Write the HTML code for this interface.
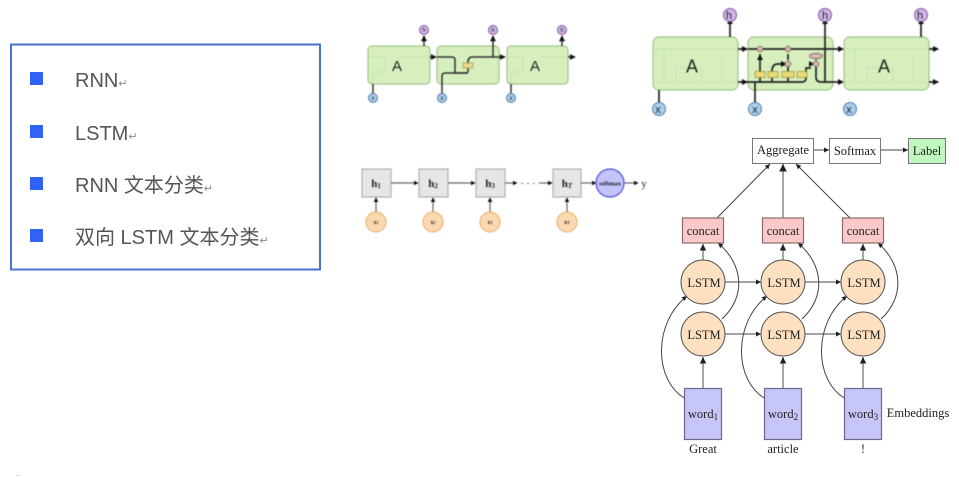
<!DOCTYPE html>
<html><head><meta charset="utf-8"><style>
html,body{margin:0;padding:0;background:#fff}
body{width:959px;height:477px;overflow:hidden;position:relative}
svg{position:absolute;left:0;top:0}
.t{font-family:"Liberation Serif",serif;fill:#222;text-anchor:middle}
.s{font-family:"Liberation Sans",sans-serif;fill:#222;text-anchor:middle}
.L{font-family:"Liberation Sans","Noto Sans CJK SC",sans-serif;font-size:20px;fill:#555}
.g{fill:#d6efbd;stroke:#a3c48c;stroke-width:1.2}
.k{fill:none;stroke:#333;stroke-width:1.5}
.in{fill:none;stroke:#c9e2b4;stroke-width:1}
.b1{filter:blur(.55px)}
.b2{filter:blur(.4px)}
.b3{filter:blur(.3px)}
</style></head><body>
<svg width="959" height="477" viewBox="0 0 959 477" xmlns="http://www.w3.org/2000/svg">
<defs>
<marker id="a" markerWidth="6" markerHeight="6" refX="5" refY="3" orient="auto"><path d="M0 .5L5 3L0 5.5z" fill="#222"/></marker>
<marker id="b" markerWidth="4" markerHeight="4" refX="3.500" refY="2" orient="auto"><path d="M0 0L4 2L0 4z" fill="#111"/></marker>
</defs>

<!-- list -->
<g class="b3">
<rect x="11" y="44.500" width="309" height="225" fill="#fff" stroke="#4a72d6" stroke-width="2"/>
<rect x="30" y="72" width="13" height="13" fill="#2f62f5"/>
<rect x="30" y="125" width="13" height="13" fill="#2f62f5"/>
<rect x="30" y="177" width="13" height="13" fill="#2f62f5"/>
<rect x="30" y="229" width="13" height="13" fill="#2f62f5"/>
<text class="L" x="75" y="87">RNN<tspan font-size="11" fill="#888">↵</tspan></text>
<text class="L" x="75" y="140">LSTM<tspan font-size="11" fill="#888">↵</tspan></text>
<text class="L" x="75" y="192">RNN 文本分类<tspan font-size="11" fill="#888">↵</tspan></text>
<text class="L" x="75" y="244">双向 LSTM 文本分类<tspan font-size="11" fill="#888">↵</tspan></text>
</g>
<rect x="17" y="475" width="1" height="1" fill="#999"/>

<!-- top-left RNN -->
<g class="b1">
<rect class="g" x="368" y="46" width="62" height="38" rx="4"/>
<rect class="g" x="437" y="46" width="62" height="38" rx="4"/>
<rect class="g" x="507" y="46" width="61" height="38" rx="4"/>
<path class="in" d="M369 57H385V72H373V84M430 57H400M507 57H523V72H511V84M568 57H540"/>
<text class="s" x="397" y="71" font-size="15">A</text>
<text class="s" x="535" y="71" font-size="15">A</text>
<path class="k" d="M373 84V93M511 84V93"/>
<path class="k" d="M424 46V36" marker-end="url(#b)"/>
<path class="k" d="M562 46V36" marker-end="url(#b)"/>
<path class="k" d="M430 57H436" marker-end="url(#b)"/>
<path class="k" d="M568 57H575" marker-end="url(#b)"/>
<path class="k" d="M437 57H452Q455 57 455 60V73H465Q468 73 468 71V70"/>
<path class="k" d="M442 93V76Q442 73 445 73H468"/>
<path class="k" d="M468 70V62Q468 57 472 57H505" marker-end="url(#b)"/>
<path class="k" d="M493 57V36" marker-end="url(#b)"/>
<rect x="463" y="63" width="10" height="5" fill="#e5d98a" stroke="#a89a55" stroke-width=".7"/>
<g stroke="#57789f" stroke-width="1" fill="#a9cdee"><circle cx="373" cy="98" r="4.500"/><circle cx="442" cy="98" r="4.500"/><circle cx="511" cy="98" r="4.500"/></g>
<g stroke="#7c5a9c" stroke-width="1" fill="#d3b5ec"><circle cx="424" cy="30" r="4.500"/><circle cx="493" cy="30" r="4.500"/><circle cx="562" cy="30" r="4.500"/></g>
<text class="s" x="373" y="100" font-size="6">x</text><text class="s" x="442" y="100" font-size="6">x</text><text class="s" x="511" y="100" font-size="6">x</text>
<text class="s" x="424" y="32" font-size="6">h</text><text class="s" x="493" y="32" font-size="6">h</text><text class="s" x="562" y="32" font-size="6">h</text>
</g>

<!-- top-right LSTM -->
<g class="b2">
<rect class="g" x="653" y="37" width="85" height="53" rx="6"/>
<rect class="g" x="748" y="37" width="85" height="53" rx="6"/>
<rect class="g" x="844" y="37" width="85" height="53" rx="6"/>
<path class="in" d="M653 49H738M664 49V82H676V68H702V82H722V55M653 82H738M844 49H929M855 49V82H867V68H893V82H913V55M844 82H929"/>
<text class="s" x="692" y="72.500" font-size="18">A</text>
<text class="s" x="884" y="72.500" font-size="18">A</text>
<g stroke="#222" fill="none" stroke-width="1.700">
<path d="M659 90V103M730 37V23M738 49H747M738 82H747M748 49H842M929 49H938M929 82H938M825 82V23M921 37V23"/>
<path d="M755 103V82H745M755 82H802Q806 82 806 78V68H811"/>
<path d="M760 82V54M772 82V71Q772 64 778 64H784M788 82V67M788 60V54M816 67V77Q816 82 821 82H842M816 60V54"/>
</g>
<g fill="#111">
<path d="M727 24L730 19L733 24zM822 24L825 19L828 24zM918 24L921 19L924 24z"/>
<path d="M742 46L748 49L742 52zM742 79L748 82L742 85zM838 46L844 49L838 52zM838 79L844 82L838 85zM933 46L939 49L933 52zM933 79L939 82L933 85z"/>
<path d="M757 60L760 54L763 60zM781 61L787 64L781 67zM809 61L814 64L809 67z"/>
</g>
<g fill="#e9dc78" stroke="#a39437" stroke-width=".8"><rect x="755" y="71.500" width="10" height="6"/><rect x="768" y="71.500" width="10" height="6"/><rect x="782" y="71.500" width="12" height="6"/><rect x="797" y="71.500" width="10" height="6"/></g>
<g fill="#d9b7b0" stroke="#7a6464" stroke-width=".8"><circle cx="760" cy="49" r="2.800"/><circle cx="788" cy="49" r="2.800"/><circle cx="788" cy="64" r="2.800"/><circle cx="816" cy="64" r="2.800"/><ellipse cx="816" cy="56" rx="6.500" ry="2.800"/></g>
<g stroke="#567fa8" stroke-width="1" fill="#a9cfef"><circle cx="659" cy="109" r="6.500"/><circle cx="755" cy="109" r="6.500"/><circle cx="850" cy="109" r="6.500"/></g>
<g stroke="#7c5a9c" stroke-width="1" fill="#d3b5ec"><circle cx="730" cy="15" r="6.500"/><circle cx="825" cy="15" r="6.500"/><circle cx="921" cy="15" r="6.500"/></g>
<text class="s" x="658" y="113" font-size="11">x</text><text class="s" x="755" y="113" font-size="11">x</text><text class="s" x="849" y="113" font-size="11">x</text>
<text class="s" x="729" y="19" font-size="11">h</text><text class="s" x="825" y="19" font-size="11">h</text><text class="s" x="920" y="19" font-size="11">h</text>
</g>

<!-- middle RNN classifier -->
<g class="b2">
<g fill="#e6e6e6" stroke="#b0b0b0" stroke-width="1.200"><rect x="362" y="169" width="29" height="28"/><rect x="419" y="169" width="29" height="28"/><rect x="476" y="169" width="29" height="28"/><rect x="553" y="169" width="28" height="28"/></g>
<g fill="none" stroke="#666" stroke-width="1.200">
<path d="M391 183H418" marker-end="url(#b)"/><path d="M448 183H475" marker-end="url(#b)"/>
<path d="M505 183H517" marker-end="url(#b)"/><path d="M539 183H552" marker-end="url(#b)"/>
<path d="M581 183H596" marker-end="url(#b)"/><path d="M624 183H638" marker-end="url(#b)"/>
<path d="M376 212V198" marker-end="url(#b)"/><path d="M433 212V198" marker-end="url(#b)"/>
<path d="M490 212V198" marker-end="url(#b)"/><path d="M567 212V198" marker-end="url(#b)"/>
</g>
<g fill="#fbd9b0" stroke="#eeaa63" stroke-width="1"><circle cx="376" cy="222" r="10"/><circle cx="433" cy="222" r="10"/><circle cx="490" cy="222" r="10"/><circle cx="567" cy="222" r="10"/></g>
<circle cx="610" cy="183" r="14" fill="#c4c4fa" stroke="#4e4edb" stroke-width="1.200"/>
<text class="t" x="610" y="185.500" font-size="6.500" font-weight="bold">softmax</text>
<g font-weight="bold" font-size="11"><text class="t" x="376" y="187">h<tspan font-size="7" dy="1">1</tspan></text><text class="t" x="433" y="187">h<tspan font-size="7" dy="1">2</tspan></text><text class="t" x="490" y="187">h<tspan font-size="7" dy="1">3</tspan></text><text class="t" x="567" y="187">h<tspan font-size="7" dy="1" font-style="italic">T</tspan></text></g>
<g font-size="6" font-weight="bold"><text class="t" x="376" y="224">x<tspan font-size="4">1</tspan></text><text class="t" x="433" y="224">x<tspan font-size="4">2</tspan></text><text class="t" x="490" y="224">x<tspan font-size="4">3</tspan></text><text class="t" x="567" y="224">x<tspan font-size="4">T</tspan></text></g>
<text class="t" x="528" y="187" font-size="10">· · ·</text>
<text class="t" x="644" y="187" font-size="11">y</text>
</g>

<!-- right architecture -->
<g class="b3">
<g fill="none" stroke="#444" stroke-width="1">
<path d="M814 150H829" marker-end="url(#a)"/>
<path d="M881 150H908" marker-end="url(#a)"/>
<path d="M717 218L770 164" marker-end="url(#a)"/>
<path d="M783 218V164" stroke="#888" stroke-width="1.500" marker-end="url(#a)"/>
<path d="M850 218L796 164" marker-end="url(#a)"/>
<path d="M703 260V244" stroke="#777" stroke-width="1.300" marker-end="url(#a)"/>
<path d="M783 260V244" stroke="#777" stroke-width="1.300" marker-end="url(#a)"/>
<path d="M863 260V244" stroke="#777" stroke-width="1.300" marker-end="url(#a)"/>
<path d="M725 282H761" marker-end="url(#a)"/><path d="M805 282H841" marker-end="url(#a)"/>
<path d="M725 334H761" marker-end="url(#a)"/><path d="M805 334H841" marker-end="url(#a)"/>
<path d="M703 388V357" stroke="#777" stroke-width="1.300" marker-end="url(#a)"/>
<path d="M783 388V357" stroke="#777" stroke-width="1.300" marker-end="url(#a)"/>
<path d="M863 388V357" stroke="#777" stroke-width="1.300" marker-end="url(#a)"/>
<path d="M684 398C653 378 654 322 687 296" marker-end="url(#a)"/>
<path d="M764 398C733 378 734 322 767 296" marker-end="url(#a)"/>
<path d="M844 398C813 378 814 322 847 296" marker-end="url(#a)"/>
<path d="M722 319C745 298 745 266 718 243" marker-end="url(#a)"/>
<path d="M802 319C825 298 825 266 798 243" marker-end="url(#a)"/>
<path d="M881 319C904 298 904 266 878 243" marker-end="url(#a)"/>
</g>
<g stroke="#777" stroke-width="1">
<rect x="752.500" y="138.500" width="61" height="25" fill="#fff"/>
<rect x="829.500" y="138.500" width="51" height="25" fill="#fff"/>
<rect x="908.500" y="138.500" width="37" height="25" fill="#c0f7c0"/>
<g fill="#fcc8c8" stroke="#8a6a6a" stroke-width="1.200"><rect x="682.500" y="218" width="41" height="25"/><rect x="762.500" y="218" width="41" height="25"/><rect x="842.500" y="218" width="41" height="25"/></g>
<g fill="#fde0c0" stroke="#555"><circle cx="703" cy="282" r="22"/><circle cx="783" cy="282" r="22"/><circle cx="863" cy="282" r="22"/><circle cx="703" cy="334" r="22"/><circle cx="783" cy="334" r="22"/><circle cx="863" cy="334" r="22"/></g>
<g fill="#c6c6fa" stroke="#6a6a8a" stroke-width="1.200"><rect x="684.500" y="388.500" width="37" height="51"/><rect x="764.500" y="388.500" width="37" height="51"/><rect x="844.500" y="388.500" width="37" height="51"/></g>
</g>
<g font-size="12.500">
<text class="t" x="783" y="154">Aggregate</text><text class="t" x="855" y="155">Softmax</text><text class="t" x="927" y="155">Label</text>
<text class="t" x="703" y="235">concat</text><text class="t" x="783" y="235">concat</text><text class="t" x="863" y="235">concat</text>
<text class="t" x="704" y="287">LSTM</text><text class="t" x="784" y="287">LSTM</text><text class="t" x="864" y="287">LSTM</text>
<text class="t" x="704" y="339">LSTM</text><text class="t" x="784" y="339">LSTM</text><text class="t" x="864" y="339">LSTM</text>
<text class="t" x="703" y="418">word<tspan font-size="9" dy="2">1</tspan></text><text class="t" x="783" y="418">word<tspan font-size="9" dy="2">2</tspan></text><text class="t" x="863" y="418">word<tspan font-size="9" dy="2">3</tspan></text>
<text class="t" x="918" y="417">Embeddings</text>
<text class="t" x="703" y="453">Great</text><text class="t" x="783" y="453">article</text><text class="t" x="863" y="453">!</text>
</g>
</g>
</svg>
</body></html>
